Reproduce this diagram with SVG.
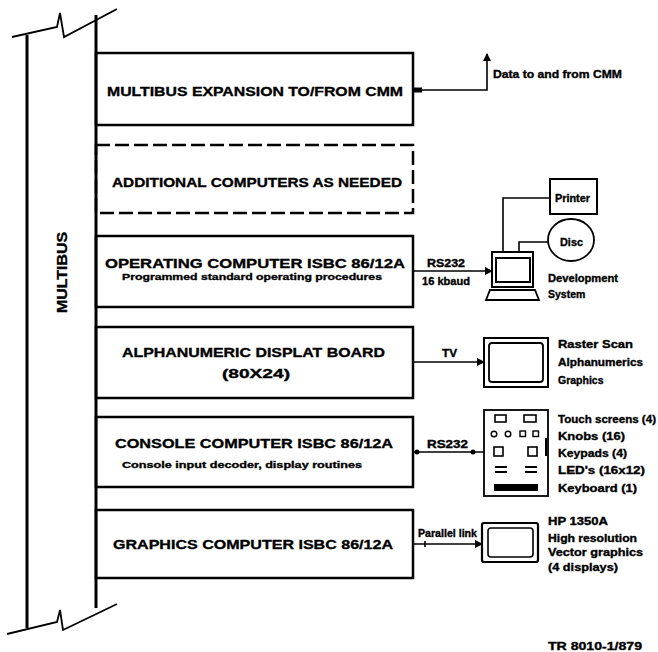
<svg xmlns="http://www.w3.org/2000/svg" width="658" height="652" viewBox="0 0 658 652">
<style>
.box{fill:none;stroke:#000;stroke-width:2.5}
.dash{fill:none;stroke:#000;stroke-width:2.5;stroke-dasharray:14,5}
.ln{fill:none;stroke:#000;stroke-width:1.6}
.bus{fill:none;stroke:#000;stroke-width:3}
.brk{fill:none;stroke:#000;stroke-width:1.8}
.t{font-family:"Liberation Sans",Arial,sans-serif;font-weight:bold;fill:#000;stroke:#000;stroke-width:0.35}
.big{font-size:13.5px}
.sm{font-size:9.5px}
.lb{font-size:10.5px}
</style>
<defs>
<marker id="ah" markerWidth="8" markerHeight="8" refX="7" refY="4" orient="auto" markerUnits="userSpaceOnUse">
<path d="M0,0 L8,4 L0,8 Z" fill="#000"/>
</marker>
</defs>
<rect width="658" height="652" fill="#fff"/>

<g id="multibus">
<line class="bus" x1="27" y1="35" x2="27" y2="628"/>
<line class="bus" x1="96" y1="15" x2="96" y2="608"/>
<path class="brk" d="M12,37 L57,27 L60,13 L64,37 L117,9"/>
<path class="brk" d="M7,634 L57,622 L60,610 L63,630 L117,604"/>
<text class="t" font-size="14" transform="translate(67,313) rotate(-90)" textLength="81" lengthAdjust="spacingAndGlyphs">MULTIBUS</text>
</g>

<g id="box-expansion">
<rect class="box" x="96" y="53" width="317" height="72"/>
<text class="t big" x="107" y="96" textLength="296" lengthAdjust="spacingAndGlyphs">MULTIBUS EXPANSION TO/FROM CMM</text>
</g>

<g id="box-additional">
<rect class="dash" x="96" y="145" width="317" height="68"/>
<text class="t big" x="112" y="187" textLength="290" lengthAdjust="spacingAndGlyphs">ADDITIONAL COMPUTERS AS NEEDED</text>
</g>

<g id="box-operating">
<rect class="box" x="96" y="236" width="317" height="71"/>
<text class="t big" x="105" y="268" textLength="300" lengthAdjust="spacingAndGlyphs">OPERATING  COMPUTER ISBC 86/12A</text>
<text class="t sm" x="122" y="280" textLength="260" lengthAdjust="spacingAndGlyphs">Programmed standard operating procedures</text>
</g>

<g id="box-display">
<rect class="box" x="96" y="327" width="317" height="71"/>
<text class="t big" x="122" y="357" textLength="263" lengthAdjust="spacingAndGlyphs">ALPHANUMERIC DISPLAT BOARD</text>
<text class="t big" x="222" y="378" textLength="68" lengthAdjust="spacingAndGlyphs">(80X24)</text>
</g>

<g id="box-console">
<rect class="box" x="96" y="417" width="317" height="70"/>
<text class="t big" x="115" y="448" textLength="278" lengthAdjust="spacingAndGlyphs">CONSOLE COMPUTER ISBC 86/12A</text>
<text class="t sm" x="122" y="468" textLength="240" lengthAdjust="spacingAndGlyphs">Console input decoder, display routines</text>
</g>

<g id="box-graphics">
<rect class="box" x="96" y="510" width="317" height="68"/>
<text class="t big" x="113" y="549" textLength="280" lengthAdjust="spacingAndGlyphs">GRAPHICS COMPUTER ISBC 86/12A</text>
</g>

<g id="connectors">
<rect x="413" y="87.5" width="9" height="5" fill="#000"/>
<path class="ln" d="M413,90 H487 V54" marker-end="url(#ah)"/>
<line class="ln" x1="413" y1="271" x2="492" y2="271" stroke-width="2.2" marker-end="url(#ah)"/>
<line class="ln" x1="413" y1="362" x2="484" y2="362" marker-end="url(#ah)"/>
<line class="ln" x1="413" y1="452" x2="484" y2="452" stroke-width="2.2"/>
<circle cx="417" cy="452" r="2.5" fill="#000"/>
<circle cx="473" cy="452" r="2.5" fill="#000"/>
<line class="ln" x1="413" y1="544" x2="482" y2="544" marker-end="url(#ah)"/>
<line class="ln" x1="425" y1="541" x2="425" y2="547"/>
<path class="ln" d="M503,252 V198 H550"/>
<path class="ln" d="M519,252 V242 H548"/>
</g>

<g id="label-cmm">
<text class="t lb" x="493" y="78" textLength="129" lengthAdjust="spacingAndGlyphs">Data to and from CMM</text>
</g>

<g id="label-rs232-dev">
<text class="t lb" x="427" y="267" textLength="38" lengthAdjust="spacingAndGlyphs">RS232</text>
<text class="t lb" x="422" y="285" textLength="48" lengthAdjust="spacingAndGlyphs">16 kbaud</text>
</g>

<g id="dev-system">
<rect x="492" y="252" width="41" height="35" fill="none" stroke="#000" stroke-width="2"/>
<rect x="496" y="258" width="34" height="24" fill="none" stroke="#000" stroke-width="2"/>
<path d="M490,290 H535 L539,300 H486 Z" fill="none" stroke="#000" stroke-width="1.8"/>
<text class="t lb" x="548" y="282" textLength="70" lengthAdjust="spacingAndGlyphs">Development</text>
<text class="t lb" x="548" y="298">System</text>
</g>

<g id="printer">
<rect x="550" y="179" width="47" height="35" fill="none" stroke="#000" stroke-width="2"/>
<text class="t lb" x="555" y="202" textLength="35" lengthAdjust="spacingAndGlyphs">Printer</text>
</g>

<g id="disc">
<ellipse cx="571" cy="240" rx="23" ry="21" fill="none" stroke="#000" stroke-width="1.8"/>
<text class="t lb" x="560" y="246" textLength="23" lengthAdjust="spacingAndGlyphs">Disc</text>
</g>

<g id="label-tv">
<text class="t lb" x="442" y="357" textLength="15" lengthAdjust="spacingAndGlyphs">TV</text>
</g>

<g id="tv-monitor">
<rect x="484" y="338" width="64" height="49" fill="none" stroke="#000" stroke-width="2"/>
<rect x="489" y="343" width="54" height="39" rx="3" fill="none" stroke="#000" stroke-width="1.8"/>
<text class="t lb" x="558" y="348" textLength="75" lengthAdjust="spacingAndGlyphs">Raster Scan</text>
<text class="t lb" x="558" y="366" textLength="85" lengthAdjust="spacingAndGlyphs">Alphanumerics</text>
<text class="t lb" x="558" y="384">Graphics</text>
</g>

<g id="label-rs232-console">
<text class="t lb" x="427" y="448" textLength="41" lengthAdjust="spacingAndGlyphs">RS232</text>
</g>

<g id="console-panel">
<rect x="484" y="410" width="64" height="86" fill="none" stroke="#000" stroke-width="1.8"/>
<rect x="495" y="415" width="11" height="7" fill="none" stroke="#000" stroke-width="1.6"/>
<rect x="524" y="415" width="12" height="7" fill="none" stroke="#000" stroke-width="1.6"/>
<circle cx="494" cy="434" r="2.8" fill="none" stroke="#000" stroke-width="1.4"/>
<circle cx="508" cy="434" r="2.8" fill="none" stroke="#000" stroke-width="1.4"/>
<rect x="520" y="431" width="5.5" height="5.5" fill="none" stroke="#000" stroke-width="1.4"/>
<rect x="533" y="431" width="5.5" height="5.5" fill="none" stroke="#000" stroke-width="1.4"/>
<rect x="494" y="447" width="9" height="9" fill="none" stroke="#000" stroke-width="1.6"/>
<rect x="528" y="447" width="9" height="9" fill="none" stroke="#000" stroke-width="1.6"/>
<path d="M495,467 H507 M495,472 H507 M525,467 H537 M525,472 H537" stroke="#000" stroke-width="2"/>
<rect x="494" y="484" width="44" height="7" fill="#000"/>
<line x1="546" y1="438" x2="546" y2="456" stroke="#000" stroke-width="2"/>
<text class="t lb" x="558" y="423" textLength="98" lengthAdjust="spacingAndGlyphs">Touch screens (4)</text>
<text class="t lb" x="558" y="440" textLength="67" lengthAdjust="spacingAndGlyphs">Knobs (16)</text>
<text class="t lb" x="558" y="457" textLength="69" lengthAdjust="spacingAndGlyphs">Keypads (4)</text>
<text class="t lb" x="558" y="474" textLength="87" lengthAdjust="spacingAndGlyphs">LED's (16x12)</text>
<text class="t lb" x="558" y="492" textLength="79" lengthAdjust="spacingAndGlyphs">Keyboard (1)</text>
</g>

<g id="label-parallel">
<text class="t lb" x="418" y="537" textLength="59" lengthAdjust="spacingAndGlyphs">Parallel link</text>
</g>

<g id="vector-monitor">
<rect x="482" y="523" width="56" height="39" rx="2" fill="none" stroke="#000" stroke-width="2.2"/>
<rect x="488" y="528" width="45" height="29" rx="3" fill="none" stroke="#000" stroke-width="1.6"/>
<text class="t lb" x="548" y="525" textLength="60" lengthAdjust="spacingAndGlyphs">HP 1350A</text>
<text class="t lb" x="548" y="542" textLength="89" lengthAdjust="spacingAndGlyphs">High resolution</text>
<text class="t lb" x="548" y="556" textLength="95" lengthAdjust="spacingAndGlyphs">Vector graphics</text>
<text class="t lb" x="548" y="571" textLength="70" lengthAdjust="spacingAndGlyphs">(4 displays)</text>
</g>

<g id="ref-number">
<text class="t lb" x="548" y="650" textLength="94" lengthAdjust="spacingAndGlyphs">TR 8010-1/879</text>
</g>
</svg>
